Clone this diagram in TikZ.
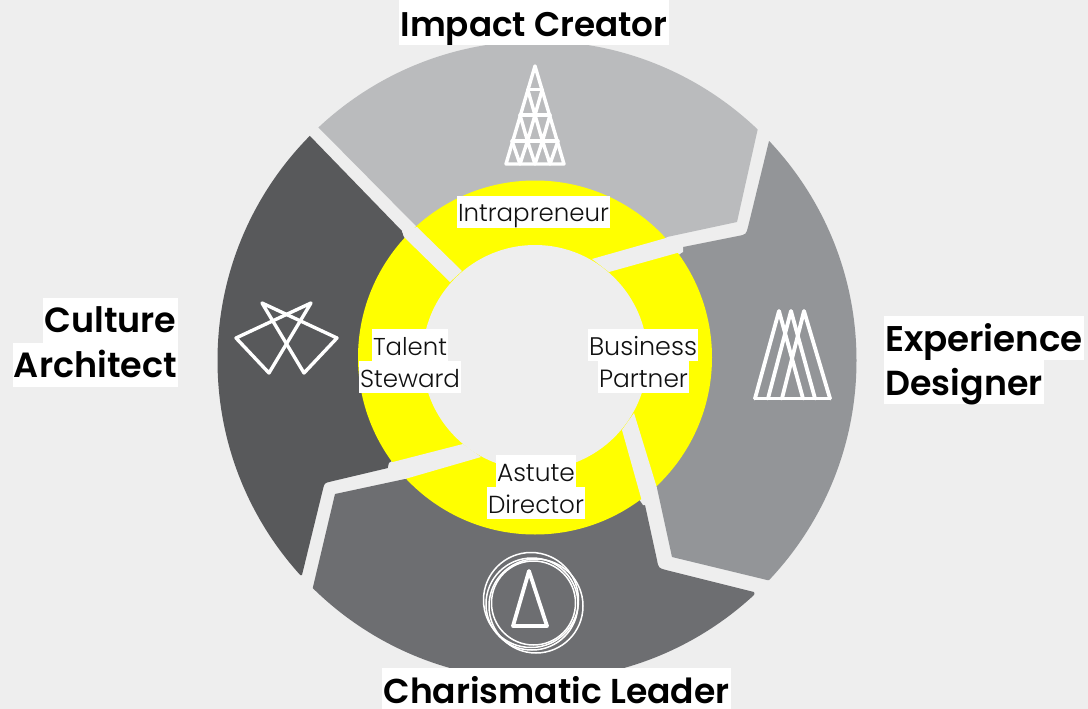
\documentclass[tikz,border=0pt]{standalone}
\usepackage{fontspec}
\usepackage{graphicx}
\setmainfont{Lato}
\newfontfamily\boldf{Poppins SemiBold}
\newfontfamily\regf{Poppins Light}
\definecolor{pagebg}{HTML}{EEEEEE}
\definecolor{segA}{HTML}{BABBBD}
\definecolor{segB}{HTML}{939598}
\definecolor{segC}{HTML}{6D6E71}
\definecolor{segD}{HTML}{58595B}
\definecolor{ringY}{HTML}{FFFF00}
\definecolor{smalltext}{HTML}{111111}
\tikzset{
  iconline/.style={draw=white,line width=3.8pt,line join=round,line cap=round},
  fineicon/.style={draw=white,line width=3.4pt,line join=round,line cap=round},
  thinline/.style={draw=white,line width=1.5pt},
  biglabel/.style={inner sep=0pt,text=black,font=\boldf\fontsize{33}{33}\selectfont},
  smalllabel/.style={inner sep=0pt,text=smalltext,font=\regf\fontsize{27}{27}\selectfont}
}
% style, name, left, top, right, bottom, baseline, text width, text
\newcommand{\lbl}[9]{\path[fill=white] (#3,#4) rectangle (#5,#6);
  \node[#1,anchor=base] (#2) at ({(#3+#5)/2},#7) {\resizebox{#8pt}{!}{#9}};}
\begin{document}
\begin{tikzpicture}[x=1pt,y=-1pt]
\useasboundingbox (0,0) rectangle (1088,709);
\fill[pagebg] (0,0) rectangle (1088,709);
\begin{scope}
\clip (537,360.5) circle (319.5);
\fill[segA] (317,126) -- (300,-20) -- (780,-20) -- (758,128) -- (737,222) -- (667,237) -- (535,357) -- (417,227) -- cycle;
\fill[segB] (769,141) -- (900,141) -- (900,580) -- (767,580) -- (672,557) -- (657,488) -- (535,357) -- (683,252) -- (683,247) -- (738,236) .. controls (746,234.5) .. (748,227) -- cycle;
\fill[segC] (313,587) -- (335,494) -- (405,479) -- (535,357) -- (643,505) -- (645,505) -- (657,560) .. controls (658.5,568) .. (666,570) -- (754,592) -- (780,720) -- (300,720) -- cycle;
\fill[segD] (308,134) -- (402,231) -- (404,237) -- (535,357) -- (389,463) -- (388,468) -- (331,481.5) .. controls (324.5,483) .. (323,489) -- (302,575) -- (190,575) -- (190,134) -- cycle;
\end{scope}
% yellow ring
\fill[ringY] (535,357.5) circle (177);
\fill[pagebg] (535,357.5) circle (112.5);
% gaps through the ring
\fill[pagebg] (417,227) -- (462,271) -- (450,282) -- (404,237) -- (402,231) -- cycle;
\fill[pagebg] (592,259) -- (666,238) -- (683,247) -- (683,252) -- (677,253) -- (609,272) -- cycle;
\fill[pagebg] (463,444) -- (389,463) -- (388,468) -- (405,479) -- (481,457) -- cycle;
\fill[pagebg] (622,430) -- (643,505) -- (646,505) -- (657,488) -- (634,413) -- cycle;
% icon: top
\draw[fineicon] (535,66) -- (564,164) -- (506,164) -- cycle;
\draw[fineicon] (527.7,89.5) -- (542.3,89.5) (520,115) -- (550,115) (512,141) -- (558,141);
\draw[fineicon] (527.7,89.5) -- (535,115) -- (542.3,89.5);
\draw[fineicon] (520,115) -- (527.5,141) -- (535,115) -- (542.5,141) -- (550,115);
\draw[fineicon] (512,141) -- (520,164) -- (527.5,141) -- (535,164) -- (542.5,141) -- (550,164) -- (558,141);
% icon: right
\draw[iconline] (755,398.5) -- (830,398.5);
\draw[iconline] (755,398.5) -- (779,311) -- (803,398.5);
\draw[iconline] (768,398.5) -- (791,311) -- (815,398.5);
\draw[iconline] (782,398.5) -- (804,311) -- (830,398.5);
% icon: left
\draw[fineicon] (262,303) -- (337,338) -- (304,373) -- cycle;
\draw[fineicon] (311,303) -- (236,338) -- (269,373) -- cycle;
% icon: bottom
\draw[iconline] (529,571) -- (547,626) -- (513,626) -- cycle;
\draw[thinline] (531,600) circle (47.5);
\draw[thinline] (536,606) circle (47);
\draw[thinline] (533.5,603) circle (42);
\draw[thinline] (532,604) circle (46);
% labels
\lbl{biglabel}{impact}{399}{0}{669}{45}{37}{267}{Impact Creator}
\lbl{biglabel}{charis}{382}{668}{731}{709}{703}{346}{Charismatic Leader}
\lbl{biglabel}{culture}{43}{298}{178}{342.5}{332}{132}{Culture}
\lbl{biglabel}{archi}{13}{342.5}{178}{387}{377}{163}{Architect}
\lbl{biglabel}{exper}{884}{316}{1084}{360}{351}{198}{Experience}
\lbl{biglabel}{design}{884}{360}{1044}{404}{395}{157}{Designer}
\lbl{smalllabel}{intra}{457}{196}{610}{228}{221}{151}{Intrapreneur}
\lbl{smalllabel}{talent}{372}{329}{448}{361}{355}{74}{Talent}
\lbl{smalllabel}{stew}{359}{361}{461}{393}{387}{100}{Steward}
\lbl{smalllabel}{busi}{588}{329}{698}{361}{355}{108}{Business}
\lbl{smalllabel}{partn}{598}{361}{689}{393}{387}{89}{Partner}
\lbl{smalllabel}{astute}{496}{455}{576}{487}{481}{78}{Astute}
\lbl{smalllabel}{direc}{487}{487}{585}{519}{513}{96}{Director}
\end{tikzpicture}
\end{document}
